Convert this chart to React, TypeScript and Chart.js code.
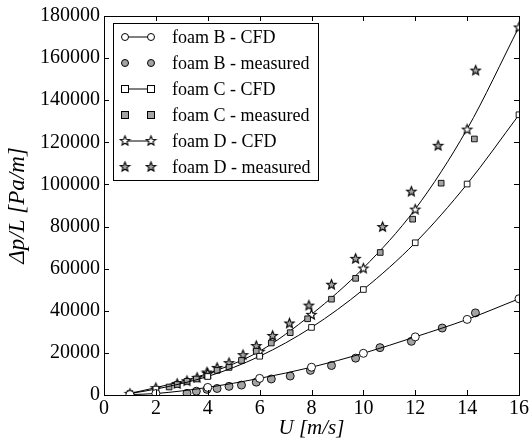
import React, { useEffect, useRef } from 'react';
import { Chart, registerables } from 'chart.js';
Chart.register(...registerables);

// ---- data ----
const cfdU = [1, 2, 4, 6, 8, 10, 12, 14, 16];
const foamB_CFD = [200, 700, 3600, 7900, 13200, 19800, 27600, 35900, 45700];
const foamC_CFD = [700, 2800, 8800, 18400, 32100, 50100, 72300, 100200, 133100];
const foamD_CFD = [800, 3500, 10200, 20800, 38300, 60300, 88300, 126300, 174800];

const foamB_U = [3.2, 3.56, 3.97, 4.36, 4.82, 5.3, 5.87, 6.45, 7.18, 7.96, 8.77, 9.7, 10.64, 11.85, 13.04, 14.32];
const foamB_meas = [800, 1800, 2700, 3100, 4100, 4700, 6100, 7600, 9000, 11700, 14000, 17500, 22500, 25500, 31800, 39000];

const foamC_U = [2.51, 2.82, 3.2, 3.56, 3.97, 4.36, 4.82, 5.3, 5.87, 6.45, 7.18, 7.85, 8.77, 9.7, 10.65, 11.9, 13.0, 14.28];
const foamC_meas = [3800, 5000, 6500, 7600, 9000, 11700, 13100, 16400, 20800, 24700, 29600, 36200, 45500, 55400, 67700, 83500, 100600, 121600];

const foamD_U = [2.82, 3.2, 3.59, 3.97, 4.36, 4.82, 5.36, 5.87, 6.5, 7.15, 7.9, 8.77, 9.7, 10.74, 11.85, 12.88, 14.33];
const foamD_meas = [5500, 6800, 8400, 10900, 13100, 15400, 19200, 23500, 28300, 34200, 42700, 52600, 64900, 80000, 96800, 118600, 154300];

const seriesLabels = [
  'foam B - CFD',
  'foam B - measured',
  'foam C - CFD',
  'foam C - measured',
  'foam D - CFD',
  'foam D - measured',
];

const GRAY = '#a3a3a3';
const SERIF = "'Liberation Serif', 'DejaVu Serif', serif";

function makeStar(fill: string): HTMLCanvasElement {
  const c = document.createElement('canvas');
  c.width = 13;
  c.height = 13;
  const ctx = c.getContext('2d')!;
  ctx.beginPath();
  for (let i = 0; i < 10; i++) {
    const r = i % 2 === 0 ? 5.0 : 2.2;
    const a = -Math.PI / 2 + (i * Math.PI) / 5;
    const x = 6.5 + r * Math.cos(a);
    const y = 7 + r * Math.sin(a);
    if (i === 0) ctx.moveTo(x, y);
    else ctx.lineTo(x, y);
  }
  ctx.closePath();
  ctx.fillStyle = fill;
  ctx.fill();
  ctx.strokeStyle = '#000';
  ctx.lineWidth = 1.1;
  ctx.stroke();
  return c;
}

const zip = (xs: number[], ys: number[]) => xs.map((x, i) => ({ x, y: ys[i] }));

export default function App() {
  const ref = useRef<HTMLCanvasElement>(null);
  useEffect(() => {
    const starOpen = makeStar('#ffffff');
    const starGray = makeStar(GRAY);

    const styles = [
      { shape: 'circle', fill: '#ffffff', line: true },
      { shape: 'circle', fill: GRAY, line: false },
      { shape: 'rect', fill: '#ffffff', line: true },
      { shape: 'rect', fill: GRAY, line: false },
      { shape: starOpen, fill: '#ffffff', line: true },
      { shape: starGray, fill: GRAY, line: false },
    ];
    const dataSets = [
      zip(cfdU, foamB_CFD),
      zip(foamB_U, foamB_meas),
      zip(cfdU, foamC_CFD),
      zip(foamC_U, foamC_meas),
      zip(cfdU, foamD_CFD),
      zip(foamD_U, foamD_meas),
    ];

    const frame = {
      id: 'frame',
      afterDatasetsDraw(chart: any) {
        const { ctx, chartArea: a, scales } = chart;
        ctx.save();
        ctx.strokeStyle = '#000';
        ctx.lineWidth = 1;
        ctx.strokeRect(Math.round(a.left) + 0.5, Math.round(a.top) + 0.5, Math.round(a.right - a.left), Math.round(a.bottom - a.top));
        const tl = 5;
        ctx.beginPath();
        scales.x.ticks.forEach((t: any) => {
          const px = Math.round(scales.x.getPixelForValue(t.value)) + 0.5;
          ctx.moveTo(px, a.bottom);
          ctx.lineTo(px, a.bottom - tl);
          ctx.moveTo(px, a.top);
          ctx.lineTo(px, a.top + tl);
        });
        scales.y.ticks.forEach((t: any) => {
          const py = Math.round(scales.y.getPixelForValue(t.value)) + 0.5;
          ctx.moveTo(a.left, py);
          ctx.lineTo(a.left + tl, py);
          ctx.moveTo(a.right, py);
          ctx.lineTo(a.right - tl, py);
        });
        ctx.stroke();

        // legend
        const lx = 113.5, ly = 23.5, lw = 205, lh = 157;
        ctx.fillStyle = '#fff';
        ctx.fillRect(lx, ly, lw, lh);
        ctx.strokeRect(lx, ly, lw, lh);
        ctx.font = `18px ${SERIF}`;
        ctx.textBaseline = 'middle';
        ctx.textAlign = 'left';
        seriesLabels.forEach((lab, i) => {
          const y = 37 + i * 26;
          const s = styles[i];
          const x1 = 125, x2 = 151;
          if (s.line) {
            ctx.beginPath();
            ctx.moveTo(x1, y);
            ctx.lineTo(x2, y);
            ctx.strokeStyle = '#000';
            ctx.stroke();
          }
          [x1, x2].forEach((mx) => {
            if (s.shape === 'circle') {
              ctx.beginPath();
              ctx.arc(mx, y, 3.5, 0, Math.PI * 2);
              ctx.fillStyle = s.fill;
              ctx.fill();
              ctx.strokeStyle = '#000';
              ctx.stroke();
            } else if (s.shape === 'rect') {
              ctx.fillStyle = s.fill;
              ctx.fillRect(mx - 3.5, y - 3.5, 7, 7);
              ctx.strokeStyle = '#000';
              ctx.strokeRect(mx - 3.5, y - 3.5, 7, 7);
            } else {
              ctx.drawImage(s.shape as HTMLCanvasElement, mx - 6.5, y - 7);
            }
          });
          ctx.fillStyle = '#000';
          ctx.fillText(lab, 172, y + 1);
        });
        ctx.restore();
      },
    };

    const chart = new Chart(ref.current!, {
      type: 'line',
      data: {
        datasets: dataSets.map((d, i) => ({
          label: seriesLabels[i],
          data: d,
          showLine: styles[i].line,
          borderColor: '#000',
          borderWidth: 1,
          backgroundColor: styles[i].fill,
          pointBackgroundColor: styles[i].fill,
          pointBorderColor: '#000',
          pointBorderWidth: 0.9,
          pointStyle: styles[i].shape as any,
          pointRadius: 4,
          cubicInterpolationMode: 'monotone' as const,
          fill: false,
        })),
      },
      options: {
        responsive: false,
        animation: false,
        layout: { padding: { left: 0, right: 11, top: 14, bottom: 0 } },
        plugins: { legend: { display: false }, tooltip: { enabled: false } },
        scales: {
          x: {
            type: 'linear',
            min: 0,
            max: 16,
            afterFit: (s: any) => { s.height = 49; },
            grid: { display: false, drawTicks: false },
            border: { display: false },
            ticks: {
              stepSize: 2,
              padding: 2,
              color: '#000',
              font: { family: SERIF, size: 20 },
              maxRotation: 0,
            },
            title: {
              display: true,
              text: 'U [m/s]',
              color: '#000',
              font: { family: SERIF, size: 21, style: 'italic' },
              padding: { top: 0, bottom: 3 },
            },
          },
          y: {
            type: 'linear',
            min: 0,
            max: 180000,
            afterFit: (s: any) => { s.width = 104; },
            grid: { display: false, drawTicks: false },
            border: { display: false },
            ticks: {
              stepSize: 20000,
              padding: 4,
              color: '#000',
              font: { family: SERIF, size: 20 },
              callback: (v: any) => String(v),
            },
            title: {
              display: true,
              text: 'Δp/L [Pa/m]',
              color: '#000',
              font: { family: SERIF, size: 23, style: 'italic' },
              padding: { top: 4, bottom: 0 },
            },
          },
        },
      },
      plugins: [frame],
    });
    return () => chart.destroy();
  }, []);

  return (
    <div style={{ position: 'absolute', left: 0, top: 0, width: 531, height: 444, background: '#fff' }}>
      <canvas ref={ref} width={531} height={444} />
    </div>
  );
}
